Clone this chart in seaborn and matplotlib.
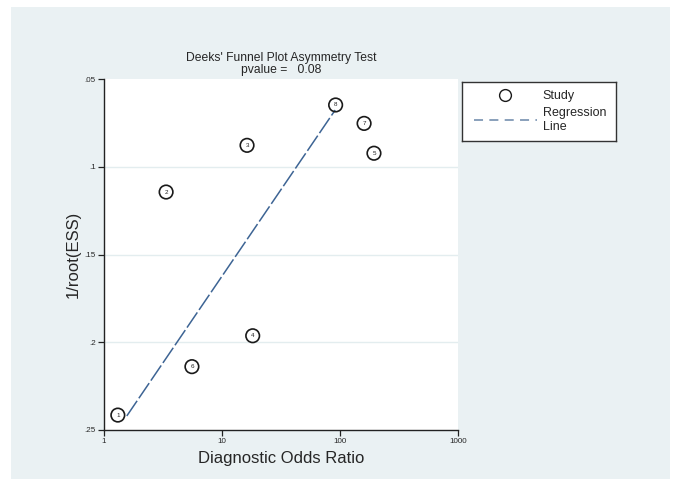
import matplotlib
matplotlib.use("Agg")
import matplotlib.pyplot as plt
from matplotlib.lines import Line2D
from matplotlib.patches import Rectangle
import seaborn as sns
import pandas as pd

# studies: diagnostic odds ratio vs 1/root(ESS)
study_id = [1, 2, 3, 4, 5, 6, 7, 8]
dor = [1.31, 3.36, 16.3, 18.2, 194, 5.56, 160, 91.8]
inv_root_ess = [0.2415, 0.1144, 0.0878, 0.1963, 0.0923, 0.2139, 0.0753, 0.0648]

# fitted regression line end points
reg_x = [1.56, 91.0]
reg_y = [0.242, 0.0677]

y_ticks = [0.05, 0.1, 0.15, 0.2, 0.25]
y_tick_labels = [".05", ".1", ".15", ".2", ".25"]
x_ticks = [1, 10, 100, 1000]
x_tick_labels = ["1", "10", "100", "1000"]

df = pd.DataFrame({"study": study_id, "dor": dor, "y": inv_root_ess})
reg = pd.DataFrame({"x": reg_x, "y": reg_y})

sns.set_style("ticks")
plt.rcParams["font.family"] = ["Liberation Sans", "DejaVu Sans"]

W, H = 675, 479
fig = plt.figure(figsize=(W / 100, H / 100), dpi=100)
fig.patch.set_facecolor("white")
bg = "#eaf1f3"
fig.patches.append(Rectangle((11 / W, 0), (670 - 11) / W, (H - 7) / H,
                             transform=fig.transFigure, facecolor=bg,
                             edgecolor="none", zorder=-10))

ax = fig.add_axes([104 / W, (H - 430) / H, (458 - 104) / W, (430 - 79) / H])
ax.set_facecolor("white")

line_col = "#3d6494"
sns.lineplot(data=reg, x="x", y="y", ax=ax, color=line_col, linewidth=1.1,
             linestyle=(0, (12, 2)), legend=False, zorder=2)
sns.scatterplot(data=df, x="dor", y="y", ax=ax, s=95, marker="o",
                facecolor="none", edgecolor="#1a1a1a", linewidth=1.2,
                legend=False, zorder=3)
for _, r in df.iterrows():
    ax.text(r["dor"], r["y"], str(int(r["study"])), fontsize=4.5,
            ha="center", va="center", color="#222222", zorder=4)

ax.set_xscale("log")
ax.set_xlim(1, 1000)
ax.set_ylim(0.25, 0.05)
ax.set_xticks(x_ticks)
ax.set_xticklabels(x_tick_labels)
ax.set_yticks(y_ticks)
ax.set_yticklabels(y_tick_labels)
ax.minorticks_off()
ax.tick_params(axis="both", labelsize=5.8, length=4, width=0.9, color="#222222",
               pad=2)
for yv in y_ticks[1:-1]:
    ax.axhline(yv, color="#e3edef", linewidth=1.0, zorder=1)

for s in ["top", "right"]:
    ax.spines[s].set_visible(False)
for s in ["left", "bottom"]:
    ax.spines[s].set_color("#222222")
    ax.spines[s].set_linewidth(1.0)

ax.set_xlabel("Diagnostic Odds Ratio", fontsize=12, labelpad=4)
ax.set_ylabel("1/root(ESS)", fontsize=12, labelpad=3)
ax.set_title("Deeks' Funnel Plot Asymmetry Test\npvalue =   0.08",
             fontsize=8.7, linespacing=0.98, pad=4.5)

# legend box
lax = fig.add_axes([462 / W, (H - 141) / H, (616 - 462) / W, (141 - 82) / H])
lax.set_facecolor("white")
lax.set_xticks([])
lax.set_yticks([])
for s in lax.spines.values():
    s.set_color("#333333")
    s.set_linewidth(1.0)
handles = [
    Line2D([], [], marker="o", linestyle="none", markersize=8.5,
           markerfacecolor="none", markeredgecolor="#1a1a1a", markeredgewidth=1.0),
    Line2D([], [], color="#8098b5", linewidth=1.3, linestyle=(0, (5, 3.5))),
]
lax.legend(handles, ["Study", "Regression\nLine"], loc="center left",
           frameon=False, fontsize=9, handlelength=5, handletextpad=0.5,
           labelspacing=0.4, borderaxespad=0.2, bbox_to_anchor=(0.03, 0.5))

fig.savefig("out.png", dpi=100)
